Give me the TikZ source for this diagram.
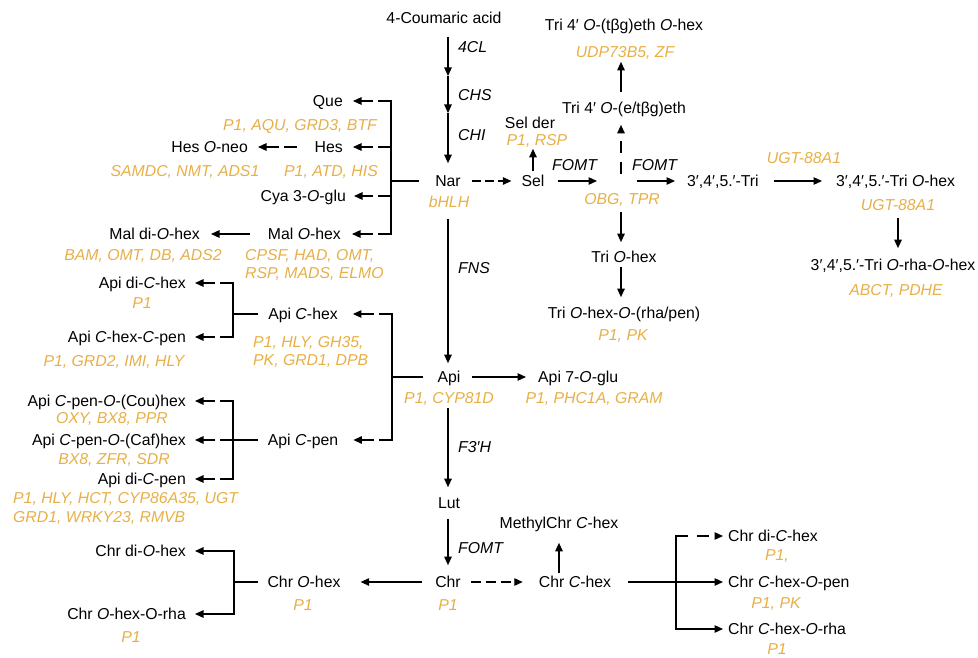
\documentclass[tikz,border=0pt]{standalone}
\usepackage{fontspec}
\setmainfont{Liberation Sans}
\usetikzlibrary{arrows.meta}
\definecolor{gold}{RGB}{232,175,70}
\newcommand{\ita}[1]{\textit{#1}}
\begin{document}
\begin{tikzpicture}[x=1pt,y=-1pt,
  every node/.style={inner sep=0pt,font=\fontsize{15.8}{18}\selectfont},
  t/.style={text height=11.3pt,text depth=0pt},
  g/.style={t,text=gold,font=\fontsize{15.8}{18}\selectfont\itshape},
  gm/.style={text=gold,font=\fontsize{15.8}{18}\selectfont\itshape,align=left},
  lab/.style={t,anchor=west,font=\fontsize{15.8}{18}\selectfont\itshape},
  ln/.style={line width=1.15pt},
  arr/.style={ln,-{Triangle[length=8.5pt,width=7.5pt]}},
  sd/.style={dash pattern=on 13pt off 5pt},
  md/.style={dash pattern=on 9pt off 4pt},
  ld/.style={dash pattern=on 12pt off 9pt}]
\useasboundingbox (0,0) rectangle (978,658);
% top / centre column
\node[t] (coum) at (444,18) {4-Coumaric acid};
\node[lab] (l4cl) at (458,47) {4CL};
\node[lab] (lchs) at (458,95) {CHS};
\node[lab] (lchi) at (458,135) {CHI};
\node[t] (nar) at (448,181) {Nar};
\node[g] (bhlh) at (449,202) {bHLH};
\node[t] (sel) at (533,181) {Sel};
\node[t] (selder) at (530,123) {Sel der};
\node[g] (rsp) at (537,140) {P1, RSP};
\coordinate (J) at (621,181);
\node[lab] (fomt1) at (552,165) {FOMT};
\node[lab] (fomt2) at (632,165) {FOMT};
\node[g] (obg) at (622,199) {OBG, TPR};
\node[t] (trie) at (624,108) {Tri 4′ \ita{O}-(e/tβg)eth};
\node[g] (udp) at (625,52) {UDP73B5, ZF};
\node[t] (trit) at (624,25) {Tri 4′ \ita{O}-(tβg)eth \ita{O}-hex};
\node[t] (trihex) at (624,257) {Tri \ita{O}-hex};
\node[t] (trirp) at (624,313) {Tri \ita{O}-hex-\ita{O}-(rha/pen)};
\node[g] (pk1) at (623,335) {P1, PK};
\node[t,anchor=west] (tri) at (687,181) {3′,4′,5.′-Tri};
\node[g] (ugt1) at (804,158) {UGT-88A1};
\node[t,anchor=west] (trioh) at (836,181) {3′,4′,5.′-Tri \ita{O}-hex};
\node[g] (ugt2) at (898,205) {UGT-88A1};
\node[t] (trirha) at (893,265) {3′,4′,5.′-Tri \ita{O}-rha-\ita{O}-hex};
\node[g] (abct) at (896,290) {ABCT, PDHE};
% left upper
\node[t,anchor=east] (que) at (343,101) {Que};
\node[g] (aqu) at (300,125) {P1, AQU, GRD3, BTF};
\node[t,anchor=east] (hes) at (343,147) {Hes};
\node[t,anchor=east] (heso) at (248,147) {Hes \ita{O}-neo};
\node[g] (samdc) at (185,171) {SAMDC, NMT, ADS1};
\node[g] (atd) at (331,171) {P1, ATD, HIS};
\node[t,anchor=east] (cya) at (346,196) {Cya 3-\ita{O}-glu};
\node[t,anchor=east] (malo) at (341,234) {Mal \ita{O}-hex};
\node[t,anchor=east] (maldi) at (200,234) {Mal di-\ita{O}-hex};
\node[g] (bam) at (143,255) {BAM, OMT, DB, ADS2};
\node[gm,anchor=north west] (cpsf) at (245,249.5) {CPSF, HAD, OMT,\\RSP, MADS, ELMO};
% Api
\node[t] (apich) at (303,314) {Api \ita{C}-hex};
\node[gm,anchor=north west] (hly) at (253,336.5) {P1, HLY, GH35,\\PK, GRD1, DPB};
\node[t,anchor=east] (apidi) at (186,283) {Api di-\ita{C}-hex};
\node[g] (p1a) at (142,303) {P1};
\node[t,anchor=east] (apichp) at (186,337) {Api \ita{C}-hex-\ita{C}-pen};
\node[g] (grd2) at (114,361) {P1, GRD2, IMI, HLY};
\node[t] (api) at (449,377) {Api};
\node[g] (cyp) at (449,398) {P1, CYP81D};
\node[t,anchor=west] (api7) at (538,377) {Api 7-\ita{O}-glu};
\node[g] (phc) at (594,398) {P1, PHC1A, GRAM};
\node[lab] (fns) at (458,268) {FNS};
\node[lab] (f3h) at (458,447) {F3′H};
\node[t] (apicpen) at (303,440) {Api \ita{C}-pen};
\node[t,anchor=east] (apicou) at (186,401) {Api \ita{C}-pen-\ita{O}-(Cou)hex};
\node[g] (oxy) at (112,418) {OXY, BX8, PPR};
\node[t,anchor=east] (apicaf) at (186,440) {Api \ita{C}-pen-\ita{O}-(Caf)hex};
\node[g] (bx8) at (114,459) {BX8, ZFR, SDR};
\node[t,anchor=east] (apidicp) at (186,479) {Api di-\ita{C}-pen};
\node[gm,anchor=north west,font=\fontsize{15.8}{19}\selectfont\itshape] (hct) at (13,492.5) {P1, HLY, HCT, CYP86A35, UGT\\GRD1, WRKY23, RMVB};
% Chr
\node[t] (lut) at (449,503) {Lut};
\node[lab] (fomt3) at (458,548) {FOMT};
\node[t] (chr) at (448,582) {Chr};
\node[g] (p1c) at (448,605) {P1};
\node[t] (chroh) at (304,582) {Chr \ita{O}-hex};
\node[g] (p1d) at (303,605) {P1};
\node[t,anchor=east] (chrdi) at (186,551) {Chr di-\ita{O}-hex};
\node[t,anchor=east] (chrrha) at (186,614) {Chr \ita{O}-hex-O-rha};
\node[g] (p1e) at (131,637) {P1};
\node[t] (chrch) at (575,582) {Chr \ita{C}-hex};
\node[t] (methyl) at (559,523) {MethylChr \ita{C}-hex};
\node[t,anchor=west] (chrdic) at (728,536) {Chr di-\ita{C}-hex};
\node[g] (p1f) at (777,555) {P1,};
\node[t,anchor=west] (chrcop) at (728,582) {Chr \ita{C}-hex-\ita{O}-pen};
\node[g] (pk2) at (776,603) {P1, PK};
\node[t,anchor=west] (chrcor) at (728,629) {Chr \ita{C}-hex-\ita{O}-rha};
\node[g] (p1g) at (777,649) {P1};
% junction coordinates
\coordinate (k1) at (448,76);
\coordinate (k2) at (448,113);
\coordinate (bx) at (391,181);
\coordinate (bq) at (391,101);
\coordinate (bh) at (391,147);
\coordinate (bc) at (391,196);
\coordinate (bm) at (391,234);
\coordinate (ba) at (392,377);
\coordinate (bat) at (392,314);
\coordinate (bab) at (392,440);
\coordinate (c1) at (233,314);
\coordinate (c1t) at (233,283);
\coordinate (c1b) at (233,337);
\coordinate (c2) at (233,440);
\coordinate (c2t) at (233,401);
\coordinate (c2b) at (233,479);
\coordinate (c3) at (234,582);
\coordinate (c3t) at (234,551);
\coordinate (c3b) at (234,614);
\coordinate (r1) at (676,582);
\coordinate (r1t) at (676,536);
\coordinate (r1b) at (676,629);
% connectors: centre column
\draw[arr] ([yshift=-13pt]coum.south -| k1) -- (k1);
\draw[arr] (k1) -- (k2);
\draw[arr] (k2) -- ([yshift=12pt]nar.north);
\draw[arr,md] ([xshift=11pt]nar.east) -- ([xshift=-10pt]sel.west);
\draw[arr] ([yshift=4pt]sel.north) -- ([yshift=-3pt]rsp.south -| sel.north);
\draw[arr] ([xshift=13pt]sel.east) -- ([xshift=-24pt]J);
\draw[arr] ([xshift=16pt]J) -- ([xshift=-12pt]tri.west);
\draw[arr,ld] ([yshift=7pt]J) -- ([yshift=-11pt]trie.south -| J);
\draw[arr] ([yshift=10pt]trie.north -| J) -- ([yshift=-4pt]udp.south -| J);
\draw[arr] ([yshift=-7pt]obg.south -| J) -- ([yshift=9pt]trihex.north -| J);
\draw[arr] ([yshift=-4pt]trihex.south -| J) -- ([yshift=10pt]trirp.north -| J);
\draw[arr] ([xshift=15pt]tri.east) -- ([xshift=-14pt]trioh.west);
\draw[arr] ([yshift=-7pt]ugt2.south) -- ([yshift=11pt]trirha.north -| ugt2.south);
\draw[arr] ([yshift=-11pt]bhlh.south -| nar) -- ([yshift=8pt]api.north -| nar);
\draw[arr] ([yshift=-4pt]cyp.south -| nar) -- ([yshift=10pt]lut.north -| nar);
\draw[arr] ([xshift=11pt]api.east) -- ([xshift=-12pt]api7.west);
\draw[arr] ([yshift=-10pt]lut.south -| nar) -- ([yshift=11pt]chr.north -| nar);
% left upper bracket
\draw[ln] ([xshift=-16pt]nar.west) -- (bx);
\draw[ln,line cap=rect] (bq) -- (bm);
\draw[arr,sd] (bq) -- ([xshift=10pt]que.east);
\draw[arr,sd] (bh) -- ([xshift=10pt]hes.east);
\draw[arr,sd] (bc) -- ([xshift=8pt]cya.east);
\draw[arr,sd] (bm) -- ([xshift=11pt]malo.east);
\draw[arr,sd] ([xshift=-18pt]hes.west) -- ([xshift=10pt]heso.east);
\draw[arr] ([xshift=-18pt]malo.west) -- ([xshift=11pt]maldi.east);
% Api brackets
\draw[ln] ([xshift=-14pt]api.west) -- (ba);
\draw[ln,line cap=rect] (bat) -- (bab);
\draw[arr,sd] (bat) -- ([xshift=15pt]apich.east);
\draw[arr,sd] (bab) -- ([xshift=15pt]apicpen.east);
\draw[ln] ([xshift=-10pt]apich.west) -- (c1);
\draw[ln,line cap=rect] (c1t) -- (c1b);
\draw[arr,sd] (c1t) -- ([xshift=9pt]apidi.east);
\draw[arr,sd] (c1b) -- ([xshift=9pt]apichp.east);
\draw[ln] ([xshift=-10pt]apicpen.west) -- (c2);
\draw[ln,line cap=rect] (c2t) -- (c2b);
\draw[arr,sd] (c2t) -- ([xshift=9pt]apicou.east);
\draw[arr,sd] (c2) -- ([xshift=9pt]apicaf.east);
\draw[arr,sd] (c2b) -- ([xshift=9pt]apidicp.east);
% Chr
\draw[arr] ([xshift=-13pt]chr.west) -- ([xshift=20pt]chroh.east);
\draw[ln] ([xshift=-9pt]chroh.west) -- (c3);
\draw[ln,line cap=rect] (c3t) -- (c3b);
\draw[arr] (c3t) -- ([xshift=9pt]chrdi.east);
\draw[arr] (c3b) -- ([xshift=9pt]chrrha.east);
\draw[arr,dash pattern=on 10pt off 5pt] ([xshift=10pt]chr.east) -- ([xshift=-16pt]chrch.west);
\draw[arr] ([yshift=3pt]chrch.north -| methyl.south) -- ([yshift=-14pt]methyl.south);
\draw[ln] ([xshift=17pt]chrch.east) -- (r1);
\draw[ln,line cap=rect] (r1t) -- (r1b);
\draw[arr] (r1) -- ([xshift=-5pt]chrcop.west);
\draw[arr,ld] (r1t) -- ([xshift=-5pt]chrdic.west);
\draw[arr] (r1b) -- ([xshift=-5pt]chrcor.west);
\end{tikzpicture}
\end{document}
